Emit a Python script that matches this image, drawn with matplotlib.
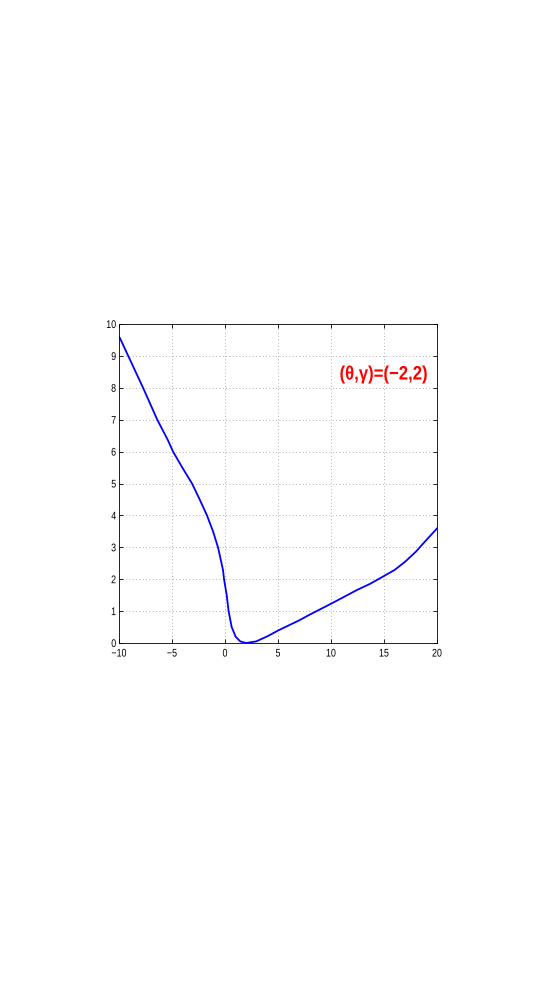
import matplotlib
matplotlib.use('Agg')
import matplotlib.pyplot as plt
from matplotlib.patheffects import AbstractPathEffect
from matplotlib.transforms import Affine2D
import numpy as np

# curve
xs = [-10, -9.9, -9.13, -7.73, -6.39, -5.39, -4.9, -4.03, -3.11, -2.39, -1.70, -1.13,
      -0.66, -0.19, -0.09, 0.16, 0.34, 0.63, 1.0, 1.44, 2.0, 2.94, 4.0, 5.0, 7.0, 7.94,
      10.0, 12.5, 13.66, 15.0, 16.0, 17.0, 18.0, 19.0, 20.0]
ys = [9.6, 9.55, 9.0, 8.0, 7.0, 6.36, 6.0, 5.5, 5.0, 4.5, 4.0, 3.5,
      3.0, 2.29, 2.0, 1.5, 1.0, 0.5, 0.2, 0.05, 0.0, 0.05, 0.21, 0.39, 0.71, 0.88,
      1.23, 1.67, 1.85, 2.1, 2.29, 2.55, 2.86, 3.23, 3.59]

label = '(θ,γ)=(−2,2)'
xtick_labels = ['−10', '−5', '0', '5', '10', '15', '20']


class Squeeze(AbstractPathEffect):
    # narrow the glyphs sideways, the installed fonts have no condensed face
    def __init__(self, sx, anchor='center'):
        super().__init__()
        self.sx = sx
        self.anchor = anchor

    def draw_path(self, renderer, gc, tpath, affine, rgbFace=None):
        pts = affine.transform(tpath.vertices)
        if len(pts) == 0:
            return
        if self.anchor == 'right':
            x0 = pts[:, 0].max()
        else:
            x0 = (pts[:, 0].max() + pts[:, 0].min()) / 2
        squeeze = Affine2D().translate(-x0, 0).scale(self.sx, 1).translate(x0, 0)
        renderer.draw_path(gc, tpath, affine + squeeze, rgbFace)


plt.rcParams['font.family'] = ['Liberation Sans', 'DejaVu Sans']

fig = plt.figure(figsize=(5.45, 9.81), dpi=100)
ax = fig.add_axes([119 / 545, 1 - 643 / 981, (437 - 119) / 545, (643 - 324) / 981])

ax.plot(xs, ys, color='#0000ff', linewidth=1.3)

ax.set_xlim(-10, 20)
ax.set_ylim(0, 10)
ax.set_xticks(np.arange(-10, 21, 5))
ax.set_yticks(np.arange(0, 11, 1))
ax.set_xticklabels(xtick_labels)
ax.tick_params(direction='in', length=3, width=0.6, labelsize=8, top=True, right=True)
ax.tick_params(axis='x', pad=4)
ax.tick_params(axis='y', pad=2)
ax.grid(True, color='#999999', linestyle=(0, (1, 3)), linewidth=0.6)
for s in ax.spines.values():
    s.set_linewidth(0.6)
for t in ax.get_xticklabels():
    t.set_path_effects([Squeeze(0.8)])
for t in ax.get_yticklabels():
    t.set_path_effects([Squeeze(0.8, 'right')])

ax.text(19.15, 8.4, label, color='red', fontsize=14, fontweight='bold', ha='right', va='center',
        path_effects=[Squeeze(0.86, 'right')])

plt.savefig('out.png', dpi=100)
